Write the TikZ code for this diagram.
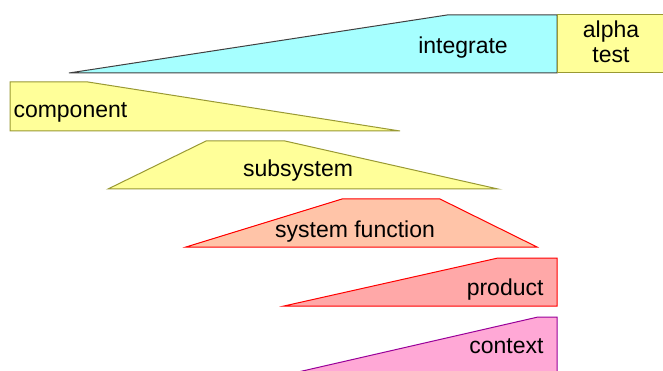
\documentclass[tikz,border=0pt]{standalone}
\usepackage{fontspec}
\setmainfont{Liberation Sans}
\usepackage{tikz}
\usetikzlibrary{positioning}
\definecolor{paleyellow}{RGB}{255,255,153}
\definecolor{olive}{RGB}{153,153,51}
\definecolor{palecyan}{RGB}{166,255,255}
\definecolor{peach}{RGB}{255,196,168}
\definecolor{salmon}{RGB}{255,168,168}
\definecolor{pinkish}{RGB}{255,168,214}
\definecolor{plum}{RGB}{153,0,153}
\tikzstyle{yellowphase}=[fill=paleyellow,draw=olive]
\tikzstyle{cyanphase}=[fill=palecyan,draw=black!75]
\tikzstyle{peachphase}=[fill=peach,draw=red]
\tikzstyle{salmonphase}=[fill=salmon,draw=red]
\tikzstyle{pinkphase}=[fill=pinkish,draw=plum]
\tikzstyle{phasetext}=[inner sep=0pt,font=\fontsize{23pt}{27pt}\selectfont]
\tikzset{every picture/.style={
    line width=1pt
  }
}

\begin{document}
\begin{tikzpicture}[x=1pt,y=-1pt]
    \useasboundingbox (0,0) rectangle (663,371);
    % phase shapes
    \draw[cyanphase] (69,73) -- (447,15) -- (557,15) -- (557,73) -- cycle;
    \draw[yellowphase] (557,15) rectangle (666,73);
    \draw[yellowphase] (10,82) -- (88,82) -- (400,131) -- (10,131) -- cycle;
    \draw[yellowphase] (108,189) -- (206,141) -- (285,141) -- (498,189) -- cycle;
    \draw[peachphase] (186,247) -- (342,199) -- (440,199) -- (537,247) -- cycle;
    \draw[salmonphase] (284,306) -- (498,258) -- (557,258) -- (557,306) -- cycle;
    \draw[pinkphase] (285,375) -- (538,317) -- (557,317) -- (557,375) -- cycle;
    % labels
    \node[phasetext,anchor=base] (integrate) at (463,54) {integrate};
    \node[phasetext,anchor=base] (alpha) at (611,38) {alpha};
    \node[phasetext,anchor=base] (test) at (611,63) {test};
    \node[phasetext,anchor=base west] (component) at (13,118) {component};
    \node[phasetext,anchor=base] (subsystem) at (298,177) {subsystem};
    \node[phasetext,anchor=base] (sysfunc) at (355,237) {system function};
    \node[phasetext,anchor=base east] (product) at (544,295) {product};
    \node[phasetext,anchor=base east] (context) at (544,353) {context};
  \end{tikzpicture}
\end{document}
